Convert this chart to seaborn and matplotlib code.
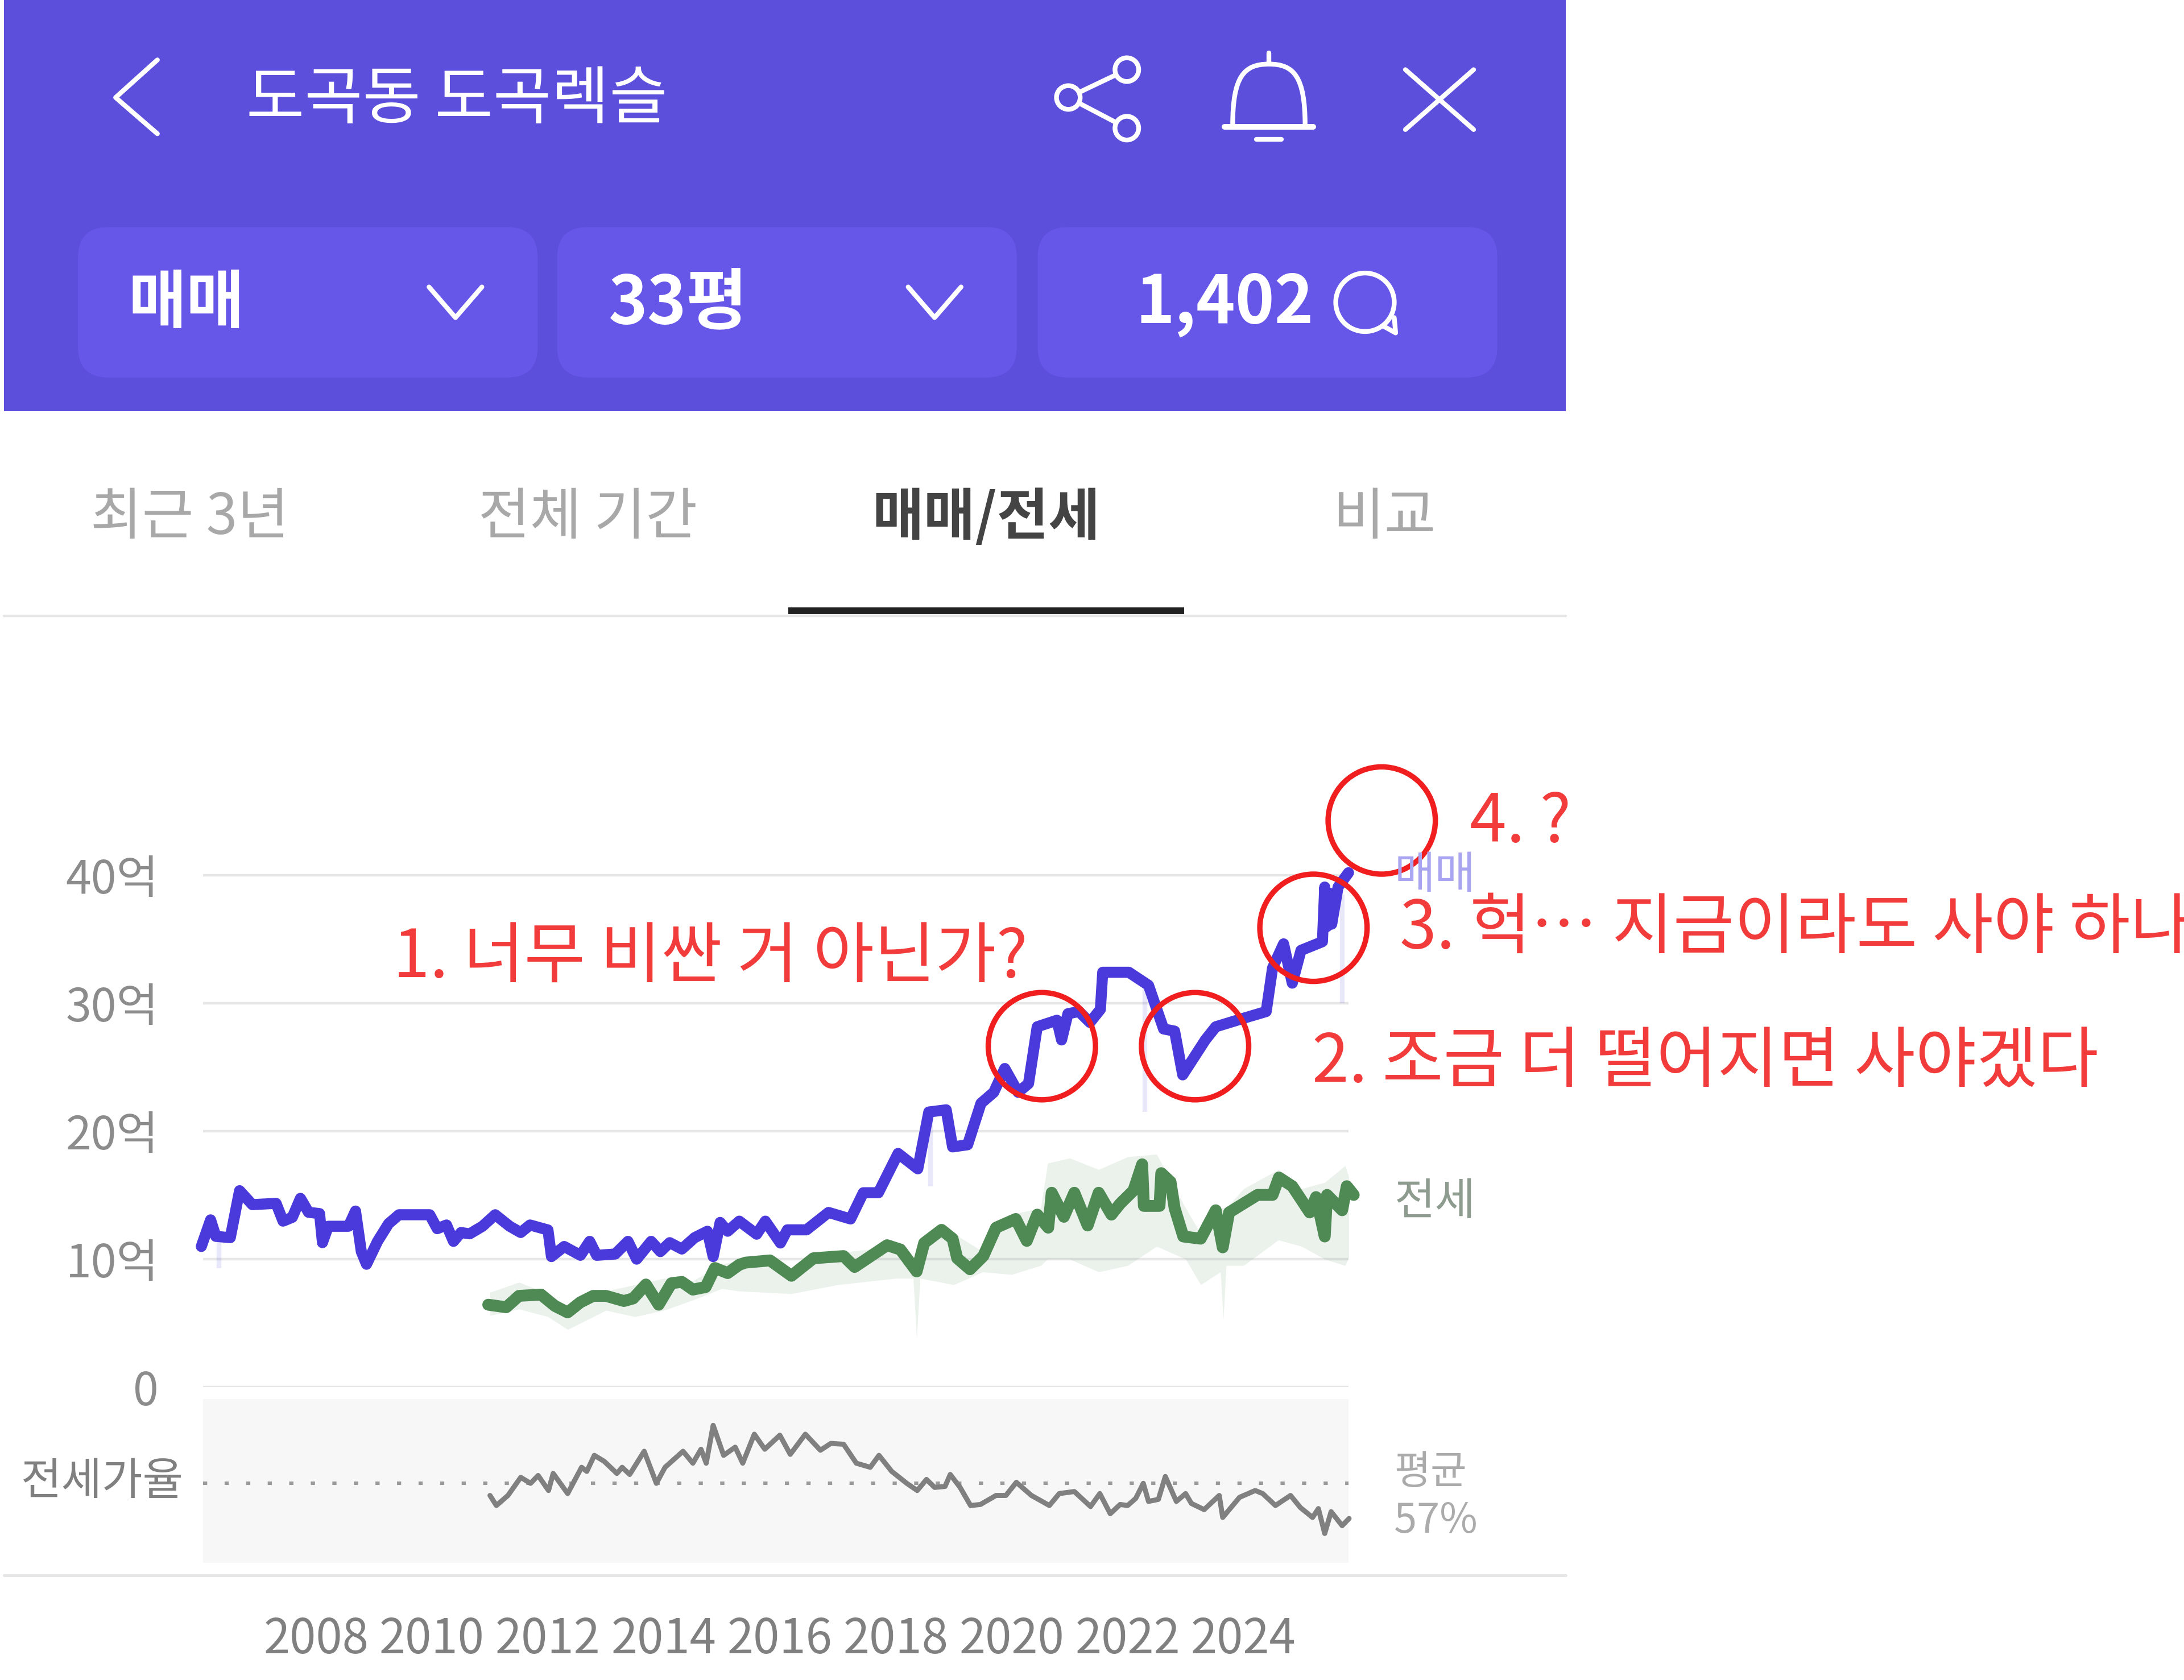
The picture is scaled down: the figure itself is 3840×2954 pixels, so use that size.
import matplotlib
matplotlib.use('Agg')
import matplotlib.pyplot as plt
import seaborn as sns
from matplotlib.patches import Circle, FancyBboxPatch, PathPatch, Rectangle
from matplotlib.path import Path

# Price lines (unit: 억)
sale_years = [2006.02, 2006.18, 2006.27, 2006.52, 2006.68, 2006.90, 2007.31, 2007.43, 2007.59, 2007.73,
              2007.87, 2008.06, 2008.11, 2008.21, 2008.56, 2008.68, 2008.78, 2008.87, 2009.06, 2009.25,
              2009.43, 2009.96, 2010.09, 2010.25, 2010.37, 2010.50, 2010.65, 2010.87, 2011.09, 2011.34,
              2011.53, 2011.69, 2012.00, 2012.06, 2012.28, 2012.56, 2012.72, 2012.84, 2013.16, 2013.38,
              2013.53, 2013.78, 2013.94, 2014.10, 2014.31, 2014.53, 2014.75, 2014.85, 2014.97, 2015.10,
              2015.30, 2015.60, 2015.75, 2016.01, 2016.13, 2016.46, 2016.84, 2017.22, 2017.44, 2017.70,
              2018.04, 2018.38, 2018.57, 2018.87, 2018.98, 2019.24, 2019.47, 2019.69, 2019.88, 2020.11,
              2020.29, 2020.44, 2020.78, 2020.86, 2020.97, 2021.16, 2021.35, 2021.53, 2021.57, 2022.02,
              2022.36, 2022.62, 2022.81, 2022.95, 2023.34, 2023.52, 2024.01, 2024.39, 2024.50, 2024.69,
              2024.84, 2024.99, 2025.36, 2025.40, 2025.44, 2025.48, 2025.52, 2025.63, 2025.81]
sale_values = [10.99, 13.07, 11.78, 11.68, 15.35, 14.26, 14.36, 12.97, 13.27, 14.75,
               13.66, 13.56, 11.29, 12.57, 12.57, 13.76, 10.59, 9.60, 11.39, 12.77,
               13.47, 13.47, 12.38, 12.67, 11.39, 12.08, 11.98, 12.57, 13.47, 12.57,
               12.08, 12.67, 12.28, 10.20, 10.99, 10.30, 11.39, 10.30, 10.40, 11.39,
               10.00, 11.39, 10.59, 11.29, 10.79, 11.68, 12.18, 10.20, 12.87, 12.18,
               12.97, 11.95, 12.97, 11.26, 12.29, 12.29, 13.65, 13.14, 15.19, 15.19,
               18.26, 17.06, 21.50, 21.67, 18.77, 18.94, 22.18, 23.04, 24.90, 23.04,
               23.72, 28.16, 28.67, 27.13, 29.18, 29.35, 28.50, 29.52, 32.42, 32.42,
               31.40, 27.99, 27.82, 24.40, 27.13, 28.16, 28.84, 29.35, 32.76, 34.64,
               31.57, 34.13, 34.81, 39.08, 36.00, 38.60, 36.18, 39.08, 40.20]

jeonse_years = [2010.97, 2011.28, 2011.50, 2011.88, 2012.12, 2012.34, 2012.56, 2012.78, 2013.00, 2013.31,
                2013.47, 2013.69, 2013.91, 2014.13, 2014.31, 2014.50, 2014.72, 2014.88, 2015.10, 2015.30,
                2015.41, 2015.83, 2016.20, 2016.58, 2017.10, 2017.29, 2017.85, 2018.08, 2018.36, 2018.49,
                2018.79, 2018.98, 2019.06, 2019.28, 2019.51, 2019.73, 2020.07, 2020.26, 2020.44, 2020.63,
                2020.69, 2020.90, 2021.08, 2021.31, 2021.50, 2021.72, 2021.87, 2022.10, 2022.25, 2022.28,
                2022.55, 2022.58, 2022.74, 2022.81, 2022.96, 2023.26, 2023.52, 2023.64, 2023.75, 2024.24,
                2024.50, 2024.61, 2024.84, 2025.14, 2025.25, 2025.40, 2025.44, 2025.70, 2025.78, 2025.90]
jeonse_values = [6.44, 6.24, 7.13, 7.23, 6.34, 5.84, 6.63, 7.13, 7.13, 6.73,
                 6.93, 8.02, 6.44, 8.12, 8.22, 7.62, 7.82, 9.31, 8.91, 9.56,
                 9.73, 9.90, 8.70, 10.07, 10.24, 9.39, 11.09, 10.75, 9.04, 11.26,
                 12.29, 11.60, 10.07, 9.21, 10.24, 12.46, 13.14, 11.43, 13.48, 12.46,
                 15.19, 13.31, 15.19, 12.63, 15.19, 13.48, 14.33, 15.36, 17.41, 14.16,
                 14.16, 16.72, 16.04, 13.99, 11.77, 11.60, 13.82, 10.92, 13.65, 15.02,
                 15.02, 16.38, 15.70, 13.65, 14.85, 11.77, 15.02, 13.82, 15.70, 15.02]

# Faint range of single trades around the jeonse line
band_years = [2011.0, 2011.5, 2012.0, 2012.34, 2013.0, 2013.5, 2014.0, 2014.5, 2015.0, 2015.3, 2016.2,
              2017.0, 2018.0, 2018.30, 2018.36, 2018.42, 2019.0, 2019.5, 2020.0, 2020.5, 2020.62, 2021.0,
              2021.5, 2022.0, 2022.5, 2023.0, 2023.26, 2023.60, 2023.65, 2023.70, 2024.0, 2024.6, 2025.0,
              2025.4, 2025.75, 2025.85]
band_low = [5.6, 6.1, 5.5, 4.5, 6.0, 5.5, 6.0, 6.8, 7.7, 7.5, 7.3,
            8.0, 8.5, 8.5, 3.8, 8.5, 8.0, 9.0, 8.8, 9.5, 10.0, 10.0,
            9.0, 9.5, 11.0, 10.0, 8.0, 9.0, 5.3, 9.5, 9.5, 11.5, 11.0,
            10.0, 9.5, 10.5]
band_high = [7.4, 8.2, 7.3, 6.3, 7.5, 8.0, 8.5, 8.3, 9.6, 9.9, 9.0,
             10.5, 11.0, 9.5, 9.3, 11.5, 12.0, 10.6, 13.5, 14.0, 17.5, 17.9,
             17.0, 18.0, 18.2, 14.0, 12.0, 14.0, 14.0, 14.0, 15.5, 17.0, 15.5,
             16.0, 17.3, 16.0]

# Faint single-trade spikes around the sale line
spike_years = [2006.32, 2018.60, 2022.30, 2025.70]
spike_low = [9.3, 15.7, 21.5, 30.0]
spike_high = [11.8, 21.0, 31.4, 38.5]

ratio_years = [2011.00, 2011.11, 2011.31, 2011.53, 2011.70, 2011.83, 2012.01, 2012.09, 2012.34, 2012.58,
               2012.67, 2012.80, 2012.97, 2013.19, 2013.28, 2013.41, 2013.66, 2013.87, 2014.02, 2014.33,
               2014.50, 2014.64, 2014.73, 2014.85, 2015.03, 2015.23, 2015.36, 2015.56, 2015.74, 2016.00,
               2016.18, 2016.44, 2016.70, 2016.88, 2017.10, 2017.32, 2017.56, 2017.71, 2017.93, 2018.19,
               2018.37, 2018.53, 2018.67, 2018.85, 2018.94, 2019.11, 2019.29, 2019.46, 2019.73, 2019.90,
               2020.08, 2020.34, 2020.65, 2020.82, 2021.08, 2021.36, 2021.52, 2021.70, 2021.87, 2022.00,
               2022.14, 2022.27, 2022.36, 2022.53, 2022.65, 2022.84, 2023.00, 2023.10, 2023.32, 2023.58,
               2023.64, 2023.93, 2024.20, 2024.33, 2024.55, 2024.81, 2024.98, 2025.19, 2025.29, 2025.40,
               2025.51, 2025.70, 2025.82]
ratio_values = [53.35, 50.4, 53.35, 58.65, 56.9, 59.2, 54.8, 59.8, 53.9, 61.6,
                60.4, 65.1, 63.35, 59.8, 61.6, 59.5, 66.3, 56.9, 61.6, 66.3,
                62.8, 66.9, 62.8, 73.9, 65.1, 67.5, 62.8, 71.3, 66.9, 71.0,
                65.4, 71.3, 66.6, 68.6, 68.35, 62.8, 61.6, 65.1, 60.4, 56.9,
                54.8, 58.05, 55.7, 56.0, 59.5, 55.7, 50.4, 50.7, 53.35, 53.35,
                57.2, 53.35, 50.4, 53.9, 54.5, 50.1, 53.9, 48.0, 50.7, 50.4,
                52.5, 56.9, 51.6, 52.2, 58.9, 51.6, 53.9, 51.0, 49.2, 53.35,
                46.9, 52.8, 54.8, 53.9, 50.4, 53.35, 49.8, 46.9, 49.5, 42.2,
                48.6, 44.5, 46.6]
ratio_mean = 57

price_ticks = [0, 10, 20, 30, 40]
price_labels = ['0', '10억', '20억', '30억', '40억']
year_ticks = [2008, 2010, 2012, 2014, 2016, 2018, 2020, 2022, 2024]

tab_labels = ['최근 3년', '전체 기간', '매매/전세', '비교']
notes = ['1. 너무 비싼 거 아닌가?', '2. 조금 더 떨어지면 사야겠다', '3. 헉… 지금이라도 사야 하나', '4. ?']

PURPLE = '#5c4fdb'
CHIP = '#6757e9'
BLUE = '#4a3adb'
GREEN = '#4f8a55'
RED = '#f23c3c'
RULE = '#e6e6e6'

W, H = 3840, 2954
XMIN, XMAX = 2006.05, 2025.81

sns.set_theme(style='white')
plt.rcParams['font.family'] = ['Noto Sans CJK KR', 'DejaVu Sans']

fig = plt.figure(figsize=(W / 200, H / 200), dpi=200, facecolor='white')

# price panel
ax = fig.add_axes([357 / W, 1 - 2439 / H, 2014 / W, 1012.5 / H])
ax.set_facecolor('none')
ax.fill_between(band_years, band_low, band_high, color=GREEN, alpha=0.11, lw=0)
ax.vlines(spike_years, spike_low, spike_high, color=BLUE, alpha=0.12, lw=3)
sns.lineplot(x=jeonse_years, y=jeonse_values, ax=ax, color=GREEN, lw=7.5, estimator=None, sort=False,
             clip_on=False, solid_capstyle='round', solid_joinstyle='round')
sns.lineplot(x=sale_years, y=sale_values, ax=ax, color=BLUE, lw=7, estimator=None, sort=False,
             clip_on=False, solid_capstyle='round', solid_joinstyle='round')
ax.set_xlim(XMIN, XMAX)
ax.set_ylim(0, 45)
ax.set_xticks([])
ax.set_yticks(price_ticks)
ax.set_yticklabels(price_labels, fontsize=29, color='#8c8c8c')
ax.tick_params(axis='y', length=0, pad=28)
ax.grid(axis='y', color=RULE, lw=1.6)
ax.set_axisbelow(True)
sns.despine(ax=ax, left=True, bottom=True)

# jeonse ratio panel
ax2 = fig.add_axes([357 / W, 1 - 2748 / H, 2014 / W, 288 / H])
ax2.set_facecolor('#f7f7f7')
ax2.axhline(ratio_mean, color='#9a9a9a', lw=2.2, ls=(0, (1.2, 5)))
sns.lineplot(x=ratio_years, y=ratio_values, ax=ax2, color='#808080', lw=3.2, estimator=None, sort=False, clip_on=False)
ax2.set_xlim(XMIN, XMAX)
ax2.set_ylim(33.6, 81.6)
ax2.set_yticks([])
ax2.set_xticks(year_ticks)
ax2.set_xticklabels(year_ticks, fontsize=30, color='#808080')
ax2.tick_params(axis='x', length=0, pad=33)
sns.despine(ax=ax2, left=True, bottom=True)

# app chrome and hand-drawn notes go on top, in a 1568-wide screen space
ui = fig.add_axes([0, 0, 1, 1], zorder=5)
ui.set_xlim(0, 1568)
ui.set_ylim(1206, 0)
ui.axis('off')


def stroke(points, color='white', lw=3):
    xs, ys = zip(*points)
    ui.plot(xs, ys, color=color, lw=lw, solid_capstyle='round', solid_joinstyle='round')


ui.add_patch(Rectangle((3, 0), 1121, 295, color=PURPLE, lw=0))
for left in [56, 400, 745]:
    ui.add_patch(FancyBboxPatch((left + 22, 185), 330 - 44, 64, boxstyle='round,pad=22,rounding_size=22',
                                fc=CHIP, ec='none'))

stroke([(113, 43), (83, 70), (113, 96)])
ui.text(177, 72, '도곡동 도곡렉슬', color='white', fontsize=40, va='center', ha='left')

# share, bell, close
stroke([(809, 50), (767, 70), (809, 92)])
for cx, cy in [(809, 50), (767, 70), (809, 92)]:
    ui.add_patch(Circle((cx, cy), 8.5, fc=PURPLE, ec='white', lw=3, zorder=4))
bell = Path([(885, 90), (885, 55), (893, 46), (911, 46), (929, 46), (937, 55), (937, 90)],
            [Path.MOVETO, Path.CURVE4, Path.CURVE4, Path.CURVE4, Path.CURVE4, Path.CURVE4, Path.CURVE4])
ui.add_patch(PathPatch(bell, fc='none', ec='white', lw=3))
stroke([(911, 38), (911, 45)])
stroke([(879, 91), (943, 91)], lw=3.6)
stroke([(902, 100), (920, 100)])
stroke([(1009, 50), (1058, 93)])
stroke([(1058, 50), (1009, 93)])

ui.text(92, 218, '매매', color='white', fontsize=40, fontweight='bold', va='center', ha='left')
ui.text(437, 218, '33평', color='white', fontsize=42, fontweight='bold', va='center', ha='left')
ui.text(943, 218, '1,402', color='white', fontsize=42, fontweight='bold', va='center', ha='right')
stroke([(308, 206), (327, 228), (346, 206)])
stroke([(652, 206), (671, 228), (690, 206)])
ui.add_patch(Circle((980, 217), 21, fc='none', ec='white', lw=3))
stroke([(993, 234), (1002, 239), (1001, 228)])

# tabs
for label, cx in zip(tab_labels, [136, 422, 708, 994]):
    active = label == '매매/전세'
    ui.text(cx, 372, label, color='#444444' if active else '#a8a8a8', fontsize=35.5,
            fontweight='bold' if active else 'normal', va='center', ha='center')
stroke([(3, 442), (1124, 442)], color=RULE, lw=1.6)
ui.add_patch(Rectangle((566, 436), 284, 5, color='#222222', lw=0))
stroke([(3, 1131), (1124, 1131)], color=RULE, lw=1.8)

# series labels at the side
ui.text(1001, 629, '매매', color='#aaa5f0', fontsize=28, va='center', ha='left')
ui.text(1001, 863, '전세', color='#8d9c8f', fontsize=28, va='center', ha='left')
ui.text(1001, 1057, '평균', color='#ababab', fontsize=25, va='center', ha='left')
ui.text(1001, 1092, f'{ratio_mean}%', color='#ababab', fontsize=26, va='center', ha='left')
ui.text(132, 1064, '전세가율', color='#808080', fontsize=28, va='center', ha='right')

# red circles and notes
for cx, cy in [(748, 751), (858, 751), (943, 666), (992, 589)]:
    ui.add_patch(Circle((cx, cy), 38.5, fc='none', ec='#f01e1e', lw=3.4))
for note, x, y in zip(notes, [282, 942, 1005, 1055], [688, 763, 667, 591]):
    ui.text(x, y, note, color=RED, fontsize=42, va='center', ha='left', clip_on=True)

fig.savefig('out.png', dpi=200, facecolor='white')
